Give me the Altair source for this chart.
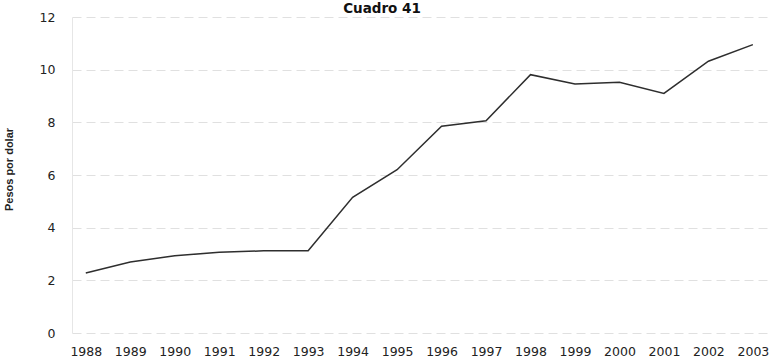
import altair as alt
import pandas as pd

# Tipo de cambio anual, pesos por dolar
years = [1988, 1989, 1990, 1991, 1992, 1993, 1994, 1995,
         1996, 1997, 1998, 1999, 2000, 2001, 2002, 2003]
pesos = [2.28, 2.70, 2.93, 3.07, 3.12, 3.12, 5.15, 6.20,
         7.85, 8.06, 9.81, 9.46, 9.52, 9.10, 10.32, 10.95]
y_ticks = [0, 2, 4, 6, 8, 10, 12]
titulo = ["Cuadro 41"]

df = pd.DataFrame({"anio": years, "pesos": pesos})
df_titulo = pd.DataFrame({"texto": titulo})

label_font = "DejaVu Sans"
title_font = "Liberation Sans"

line = (
    alt.Chart(df)
    .mark_line(color="#2e2e2e", strokeWidth=1.5)
    .encode(
        x=alt.X(
            "anio:Q",
            scale=alt.Scale(domain=[1987.69, 2003.34], nice=False, zero=False),
            axis=alt.Axis(
                values=years, format="d", title=None, grid=False,
                ticks=False, domain=False, labelPadding=12,
                labelFontSize=12.5, labelColor="#222222", labelFont=label_font,
                labelFlush=False, labelOverlap=False,
            ),
        ),
        y=alt.Y(
            "pesos:Q",
            scale=alt.Scale(domain=[0, 12], nice=False),
            axis=alt.Axis(
                values=y_ticks, title="Pesos por dolar", titleFont=title_font,
                titleFontSize=11, titleFontWeight="bold", titleColor="#222222",
                titleX=-58, titleY=152,
                labelFont=label_font, labelFontSize=12.5, labelColor="#222222",
                labelPadding=17, ticks=False, domainColor="#e6e6e6",
                gridColor="#e0e0e0", gridDash=[9, 5], gridWidth=1,
            ),
        ),
    )
)

# Chart heading, placed just above the plot area
heading = (
    alt.Chart(df_titulo)
    .mark_text(
        font=label_font, fontSize=13.5, fontWeight="bold", color="#111111",
        align="center", baseline="alphabetic",
    )
    .encode(text="texto:N", x=alt.value(310), y=alt.value(-4))
)

chart = (
    alt.layer(line, heading)
    .properties(
        width=696,
        height=316,
        autosize=alt.AutoSizeParams(type="none"),
        padding={"left": 72, "top": 17, "right": 3, "bottom": 26},
    )
    .configure_view(stroke=None)
)

chart.save("out.html", embed_options={"renderer": "svg", "actions": False})
